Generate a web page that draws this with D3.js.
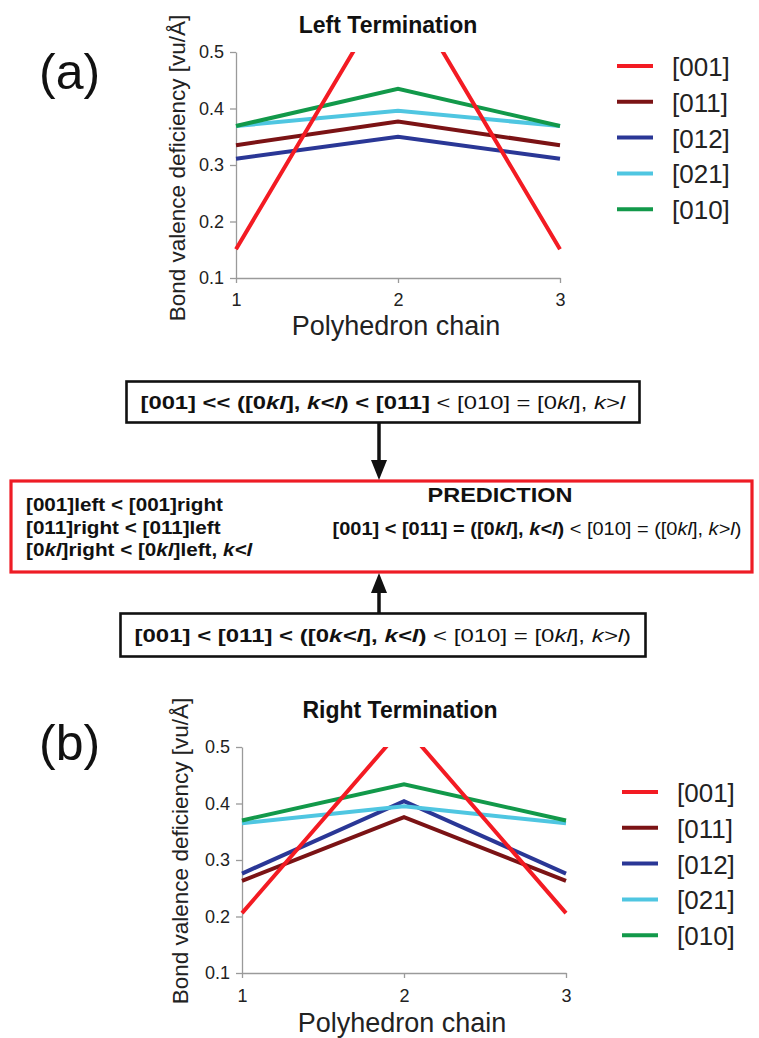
<!DOCTYPE html>
<html>
<head>
<meta charset="utf-8">
<script src="https://cdn.jsdelivr.net/npm/d3@7"></script>
<style>
  html, body { margin: 0; padding: 0; background: #fff; }
  svg { display: block; font-family: "Liberation Sans", Arial, sans-serif; }
</style>
</head>
<body>
<svg id="fig" width="759" height="1038"></svg>
<script>
// Polyhedron chain positions (x axis)
const chainPositions = [1, 2, 3];
// Surface directions, one line per direction
const directions = ["[001]", "[011]", "[012]", "[021]", "[010]"];
const directionColors = ["#f31b23", "#7b1315", "#2a3796", "#4fc6e1", "#12994a"];
// Y-axis tick values
const yTicks = [0.1, 0.2, 0.3, 0.4, 0.5];

// Bond valence deficiency (vu/Å) for the left termination, per direction
const leftTermination = [
  [0.151, 0.634, 0.151],
  [0.335, 0.377, 0.335],
  [0.311, 0.350, 0.311],
  [0.369, 0.396, 0.369],
  [0.369, 0.435, 0.369]
];
// ... and for the right termination
const rightTermination = [
  [0.206, 0.537, 0.206],
  [0.263, 0.376, 0.263],
  [0.276, 0.404, 0.276],
  [0.365, 0.395, 0.365],
  [0.370, 0.434, 0.370]
];

const svg = d3.select("#fig");

function drawPanel(o) {
  const x = d3.scaleLinear().domain([1, 3]).range([o.left, o.right]);
  const y = d3.scaleLinear().domain([0.1, 0.5]).range([o.bottom, o.top]);
  const g = svg.append("g");

  g.append("defs").append("clipPath").attr("id", "clip-" + o.id)
    .append("rect").attr("x", o.left - 3).attr("y", o.top)
    .attr("width", o.right - o.left + 6).attr("height", o.bottom - o.top + 3);

  // axes
  const yAxis = d3.axisLeft(y).tickValues(yTicks).tickFormat(d3.format(".1f"))
    .tickSize(6).tickSizeOuter(0).tickPadding(6);
  const xAxis = d3.axisBottom(x).tickValues(chainPositions).tickFormat(d3.format("d"))
    .tickSize(5).tickSizeOuter(0).tickPadding(o.xTickPad);

  const ga = g.append("g").attr("transform", `translate(${o.left},0)`).call(yAxis);
  const gb = g.append("g").attr("transform", `translate(0,${o.bottom})`).call(xAxis);
  [ga, gb].forEach(a => {
    a.select(".domain").attr("stroke", "#9a9a9a").attr("stroke-width", 1.3);
    a.selectAll(".tick line").attr("stroke", "#9a9a9a").attr("stroke-width", 1.3);
    a.selectAll(".tick text").attr("fill", "#222").attr("font-size", 18)
      .attr("font-family", "'Liberation Sans', Arial, sans-serif");
  });

  // series lines, [001] drawn last so it sits on top
  const line = d3.line().x((d, i) => x(chainPositions[i])).y(d => y(d));
  const order = [1, 2, 3, 4, 0];
  g.append("g").attr("clip-path", `url(#clip-${o.id})`)
    .selectAll("path").data(order).join("path")
    .attr("d", k => line(o.values[k]))
    .attr("fill", "none")
    .attr("stroke", k => directionColors[k])
    .attr("stroke-width", 4)
    .attr("stroke-linejoin", "miter");

  // title
  g.append("text").attr("x", o.titleX).attr("y", o.titleY)
    .attr("text-anchor", "middle").attr("font-weight", "bold").attr("font-size", 23)
    .attr("fill", "#111").text(o.title);

  // axis titles
  g.append("text")
    .attr("transform", `translate(${o.left - o.yTitleOff},${o.yTitleMid}) rotate(-90)`)
    .attr("text-anchor", "middle").attr("font-size", 22.5).attr("fill", "#222")
    .text("Bond valence deficiency [vu/Å]");
  g.append("text").attr("x", x(2) - 2).attr("y", o.bottom + o.xTitleOff)
    .attr("text-anchor", "middle").attr("font-size", 27).attr("fill", "#222")
    .text("Polyhedron chain");

  // panel tag
  g.append("text").attr("x", 39).attr("y", o.tagY)
    .attr("font-size", 50).attr("fill", "#111").text(o.tag);

  // legend
  const lg = g.append("g").attr("transform", `translate(${o.legendX},${o.legendY})`);
  const items = lg.selectAll("g").data(directions).join("g")
    .attr("transform", (d, i) => `translate(0,${i * 35.8})`);
  items.append("line").attr("x1", 0).attr("x2", 36).attr("y1", 0).attr("y2", 0)
    .attr("stroke", (d, i) => directionColors[i]).attr("stroke-width", 4);
  items.append("text").attr("x", 55).attr("y", 10).attr("font-size", 26).attr("fill", "#222").text(d => d);
}

drawPanel({ id: "a", left: 236, right: 560, top: 52, bottom: 278, title: "Left Termination", tag: "(a)",
  titleX: 388, titleY: 33, tagY: 89, yTitleOff: 51, yTitleMid: 168, xTickPad: 10, xTitleOff: 57,
  values: leftTermination, legendX: 617, legendY: 66 });
drawPanel({ id: "b", left: 242, right: 566, top: 747, bottom: 973, title: "Right Termination", tag: "(b)",
  titleX: 400, titleY: 718, tagY: 760, yTitleOff: 54, yTitleMid: 851, xTickPad: 11, xTitleOff: 59,
  values: rightTermination, legendX: 622, legendY: 792 });

// ----- ordering statements between the panels -----
// each run: [text, bold, italic]
function richText(parent, runs, size) {
  const t = parent.append("text").attr("x", 0).attr("y", 0).attr("font-size", size)
    .attr("fill", "#111").attr("xml:space", "preserve");
  runs.forEach(([s, b, i]) => {
    t.append("tspan").attr("font-weight", b ? "bold" : "normal")
      .attr("font-style", i ? "italic" : "normal").text(s);
  });
  return t;
}
// writes a line of mixed-style text, stretched horizontally to the given width
function fittedText(parent, runs, o) {
  const g = parent.append("g");
  const t = richText(g, runs, o.size);
  const w = t.node().getComputedTextLength();
  const sx = o.sx || o.width / w;
  const width = w * sx;
  const x0 = o.anchor === "middle" ? o.x - width / 2 : o.x;
  g.attr("transform", `translate(${x0},${o.y}) scale(${sx},1)`);
  return { sx, width, x0 };
}

const topRuns = [["[001] << ([0", 1, 0], ["kl", 1, 1], ["], ", 1, 0], ["k<l", 1, 1], [") < [011]", 1, 0],
  [" < [010] = [0", 0, 0], ["kl", 0, 1], ["], ", 0, 0], ["k>l", 0, 1]];
const bottomRuns = [["[001] < [011] < ([0", 1, 0], ["k<l", 1, 1], ["], ", 1, 0], ["k<l", 1, 1], [")", 1, 0],
  [" < [010] = [0", 0, 0], ["kl", 0, 1], ["], ", 0, 0], ["k>l", 0, 1], [")", 0, 0]];
const predictionRuns = [["[001] < [011] = ([0", 1, 0], ["kl", 1, 1], ["], ", 1, 0], ["k<l", 1, 1], [")", 1, 0],
  [" < [010] = ([0", 0, 0], ["kl", 0, 1], ["], ", 0, 0], ["k>l", 0, 1], [")", 0, 0]];
const sideRules = [
  [["[001]left < [001]right", 1, 0]],
  [["[011]right < [011]left", 1, 0]],
  [["[0", 1, 0], ["kl", 1, 1], ["]right < [0", 1, 0], ["kl", 1, 1], ["]left, ", 1, 0], ["k<l", 1, 1]]
];

const bx = svg.append("g");

function framedText(runs, cx, cy, width, h) {
  const padX = 14;
  bx.append("rect").attr("x", cx - width / 2 - padX).attr("y", cy - h / 2)
    .attr("width", width + 2 * padX).attr("height", h)
    .attr("fill", "#fff").attr("stroke", "#111").attr("stroke-width", 2.6);
  fittedText(bx, runs, { x: cx, y: cy + 6.8, size: 19, width, anchor: "middle" });
}
framedText(topRuns, 383, 402, 485, 41);
framedText(bottomRuns, 383, 635, 497, 43);

// prediction frame
bx.append("rect").attr("x", 11).attr("y", 481).attr("width", 741).attr("height", 91)
  .attr("fill", "none").attr("stroke", "#ee1c25").attr("stroke-width", 3.2);
const first = fittedText(bx, sideRules[0], { x: 26, y: 511, size: 17.5, width: 197 });
sideRules.slice(1).forEach((r, i) =>
  fittedText(bx, r, { x: 26, y: 534 + i * 22, size: 17.5, sx: first.sx }));
fittedText(bx, [["PREDICTION", 1, 0]], { x: 500, y: 502, size: 21, width: 145, anchor: "middle" });
fittedText(bx, predictionRuns, { x: 537, y: 535, size: 18, width: 409, anchor: "middle" });

// arrows feeding the prediction
function arrow(x0, y0, y1) {
  const dir = Math.sign(y1 - y0);
  bx.append("line").attr("x1", x0).attr("x2", x0).attr("y1", y0).attr("y2", y1 - dir * 14)
    .attr("stroke", "#111").attr("stroke-width", 3.5);
  bx.append("path").attr("d", `M${x0 - 8},${y1 - dir * 20} L${x0 + 8},${y1 - dir * 20} L${x0},${y1} Z`)
    .attr("fill", "#111");
}
arrow(379, 422, 480);
arrow(379, 613, 573);
</script>
</body>
</html>
